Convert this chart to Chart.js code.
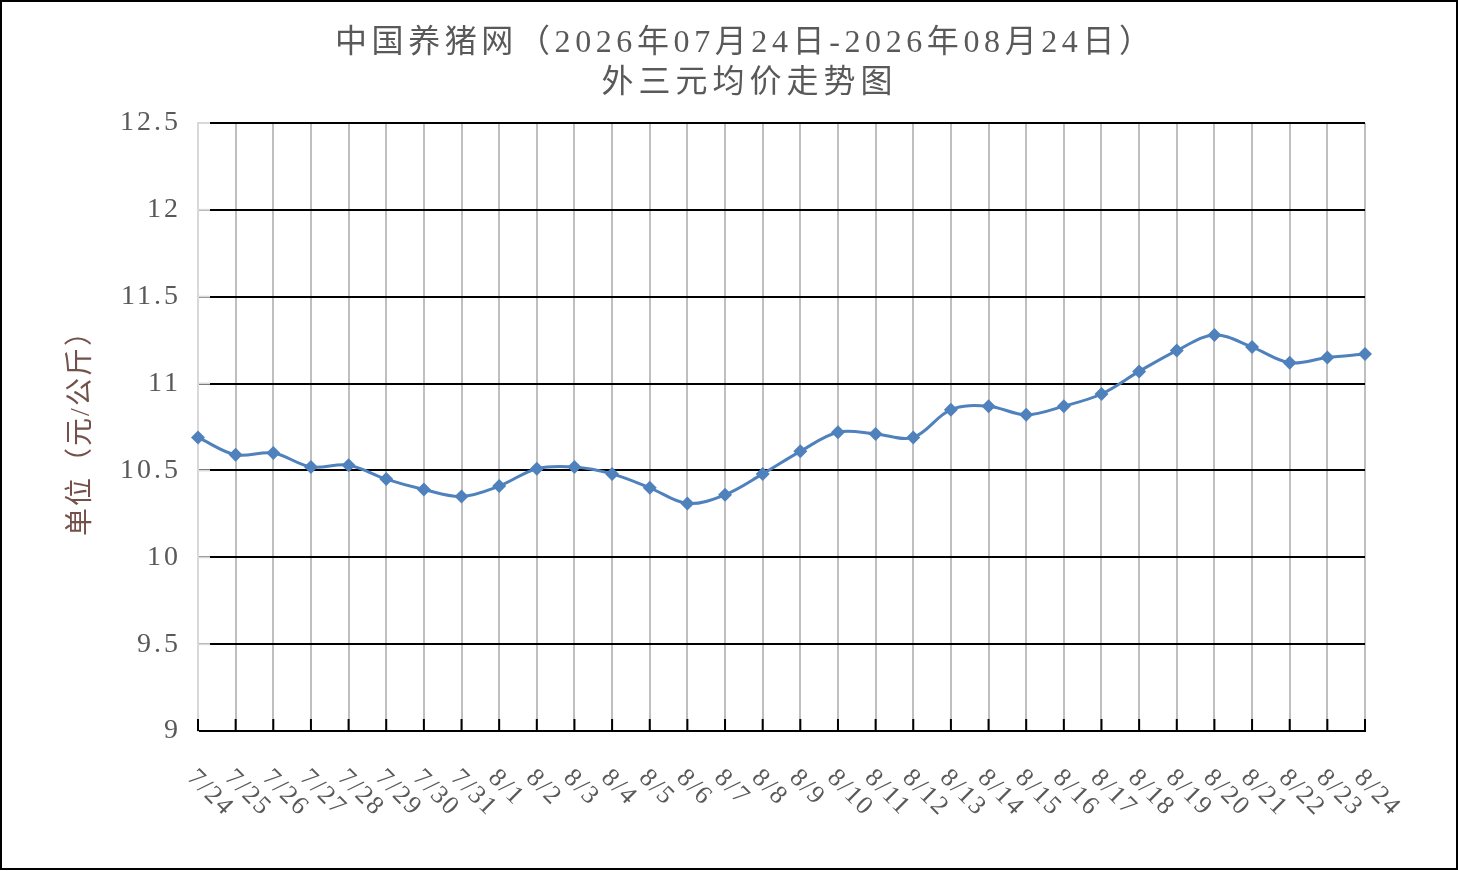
<!DOCTYPE html>
<html>
<head>
<meta charset="utf-8">
<script src="https://cdn.jsdelivr.net/npm/chart.js@4.4.1/dist/chart.umd.min.js"></script>
<style>
  html, body { margin: 0; padding: 0; background: #fff; }
  #wrap { width: 1458px; height: 870px; box-sizing: border-box; border: 2px solid #000; position: relative; background:#fff; }
  #c { display: block; }
</style>
</head>
<body>
<div id="wrap"><canvas id="c" width="1454" height="866"></canvas></div>
<script>
const titleLines = ["中国养猪网（2026年07月24日-2026年08月24日）", "外三元均价走势图"];
const yAxisTitle = "单位（元/公斤）";
const categories = ["7/24","7/25","7/26","7/27","7/28","7/29","7/30","7/31","8/1","8/2","8/3","8/4","8/5","8/6","8/7","8/8","8/9","8/10","8/11","8/12","8/13","8/14","8/15","8/16","8/17","8/18","8/19","8/20","8/21","8/22","8/23","8/24"];
const prices = [10.69,10.59,10.60,10.52,10.53,10.45,10.39,10.35,10.41,10.51,10.52,10.48,10.40,10.31,10.36,10.48,10.61,10.72,10.71,10.69,10.85,10.87,10.82,10.87,10.94,11.07,11.19,11.28,11.21,11.12,11.15,11.17];
const yMin = 9, yMax = 12.5, yStep = 0.5;

const SERIF = "'Liberation Serif', 'Noto Sans CJK SC', serif";
const TEXT = '#595959';

const spacing = {
  id: 'spacing',
  beforeDraw(chart) { chart.ctx.letterSpacing = '3px'; },
  afterDraw(chart) { chart.ctx.letterSpacing = '0px'; }
};

function spacedText(ctx, text, x, y, sp) {
  ctx.letterSpacing = sp + 'px';
  const w = ctx.measureText(text).width;
  ctx.textAlign = 'left';
  ctx.fillText(text, x - (w - sp) / 2, y);
  ctx.letterSpacing = '0px';
}

const decor = {
  id: 'decor',
  afterDraw(chart) {
    const ctx = chart.ctx, a = chart.chartArea;
    const xs = chart.scales.x, ys = chart.scales.y;
    ctx.save();
    ctx.letterSpacing = '0px';
    // light gray inner ticks on y axis
    ctx.strokeStyle = '#d9d9d9'; ctx.lineWidth = 2;
    ys.ticks.forEach((t, i) => {
      const y = ys.getPixelForTick(i);
      if (Math.abs(y - a.bottom) < 1) return;
      ctx.beginPath(); ctx.moveTo(a.left, y); ctx.lineTo(a.left + 12, y); ctx.stroke();
    });
    // black inner ticks on x axis
    ctx.strokeStyle = '#000'; ctx.lineWidth = 2;
    categories.forEach((c, i) => {
      const x = xs.getPixelForTick(i);
      ctx.beginPath(); ctx.moveTo(x, a.bottom); ctx.lineTo(x, a.bottom - 12); ctx.stroke();
    });
    // rotated category labels (clockwise 45deg)
    ctx.fillStyle = TEXT;
    ctx.font = "26px " + SERIF;
    ctx.textAlign = 'left'; ctx.textBaseline = 'middle';
    ctx.letterSpacing = '2px';
    categories.forEach((c, i) => {
      const x = xs.getPixelForTick(i);
      ctx.save();
      ctx.translate(x - 7, a.bottom + 43);
      ctx.rotate(Math.PI / 4);
      ctx.fillText(c, 0, 0);
      ctx.restore();
    });
    ctx.letterSpacing = '0px';
    // title
    ctx.fillStyle = TEXT;
    ctx.textBaseline = 'middle';
    ctx.font = "32px " + SERIF;
    spacedText(ctx, titleLines[0], 741, 42, 4.6);
    spacedText(ctx, titleLines[1], 745, 82, 5);
    // y axis title
    ctx.save();
    ctx.translate(80, 425);
    ctx.rotate(-Math.PI / 2);
    ctx.fillStyle = '#74504a';
    ctx.font = "28px " + SERIF;
    spacedText(ctx, yAxisTitle, 0, 0, 2);
    ctx.restore();
    ctx.restore();
  }
};

new Chart(document.getElementById('c'), {
  type: 'line',
  data: {
    labels: categories,
    datasets: [{
      data: prices,
      borderColor: '#4F81BD',
      backgroundColor: '#4F81BD',
      borderWidth: 3,
      tension: 0.35,
      pointStyle: 'rectRot',
      pointRadius: 7,
      pointBorderWidth: 0,
      pointBackgroundColor: '#4F81BD',
      clip: false
    }]
  },
  options: {
    responsive: false,
    animation: false,
    devicePixelRatio: 1,
    layout: { padding: { left: 96, right: 91, top: 121, bottom: 37 } },
    plugins: { legend: { display: false }, title: { display: false }, tooltip: { enabled: false } },
    scales: {
      x: {
        type: 'category',
        offset: false,
        grid: { color: '#bfbfbf', lineWidth: 2, drawTicks: false },
        border: { display: true, color: '#000', width: 2 },
        ticks: { display: false },
        afterFit(s) { s.height = 100; }
      },
      y: {
        min: yMin, max: yMax,
        grid: { color: '#000', lineWidth: 2, drawTicks: false },
        border: { display: true, color: '#d9d9d9', width: 2 },
        ticks: {
          stepSize: yStep,
          padding: 17,
          color: TEXT,
          font: { family: SERIF, size: 28 },
          callback: v => String(v)
        },
        afterFit(s) { s.width = 100; }
      }
    }
  },
  plugins: [spacing, decor]
});
</script>
</body>
</html>
